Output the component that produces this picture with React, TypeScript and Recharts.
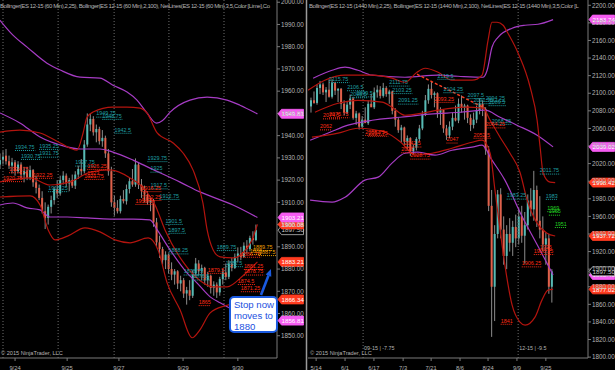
import React from "react";
import { ComposedChart, Bar, Line, XAxis, YAxis, ReferenceLine, ReferenceDot } from "recharts";

const FONT = "'Liberation Sans', Arial, sans-serif";
const UP = "#56bab4";
const DOWN = "#e0604a";
const WICK = "#8c8c8c";
const TEAL = "#1f9fa3";
const RED = "#ff2b14";
const ORANGE = "#f0a000";
const GREEN = "#22d022";
const MAGENTA = "#a63cc4";
const DARKRED = "#b3140e";
const AXIS = "#7a7a7a";
const TEXT = "#b4b4b4";

// ES 12-15 (60 Min) candles: [open, high, low, close]
const leftBars = [
  [1927, 1932, 1925, 1929], [1929, 1933, 1927, 1930.5], [1931, 1934, 1927, 1928.5], [1928.5, 1931, 1925, 1926.5],
  [1926.5, 1930, 1923, 1928], [1928, 1929, 1922, 1924], [1924, 1928.5, 1923, 1927], [1927, 1928, 1921, 1922.5],
  [1922.5, 1926, 1919, 1924], [1924, 1926, 1920, 1921], [1921, 1926.5, 1920, 1924.5], [1924.5, 1925, 1917, 1919],
  [1919, 1922, 1914, 1916.5], [1916.5, 1918, 1911, 1912], [1912, 1915, 1905, 1906], [1906, 1910, 1898, 1903],
  [1903, 1909, 1900, 1908], [1908, 1913, 1905, 1911], [1911, 1917, 1909, 1916], [1916, 1920, 1912, 1914],
  [1914, 1922, 1913, 1920], [1920, 1924, 1918, 1922], [1922, 1923, 1917, 1918.5], [1918.5, 1921, 1915, 1920],
  [1920, 1922.5, 1916.5, 1917.5], [1917.5, 1924, 1916, 1922.5], [1922.5, 1926.5, 1920.5, 1925], [1925, 1929.5, 1922, 1924],
  [1924, 1938, 1923, 1936], [1936, 1950, 1935, 1945], [1945, 1949.75, 1942, 1947.5], [1947.5, 1948.75, 1940, 1941.5],
  [1941.5, 1945, 1937, 1943], [1943, 1944, 1936, 1937.5], [1937.5, 1942.5, 1935, 1939], [1939, 1940, 1930, 1932],
  [1932, 1934, 1922, 1924], [1924, 1926, 1908, 1910], [1910, 1913, 1904, 1907.5], [1907.5, 1911, 1905, 1906],
  [1906, 1913, 1905, 1911.5], [1911.5, 1915.5, 1909.5, 1910.5], [1910.5, 1918, 1909, 1916], [1916, 1921, 1914, 1919.5],
  [1919.5, 1925, 1917, 1918], [1918, 1929.75, 1917, 1927], [1927, 1928, 1916, 1918], [1918, 1920.5, 1912, 1915],
  [1915, 1917.5, 1910, 1913.5], [1913.5, 1915, 1909, 1910], [1910, 1912.75, 1906, 1911], [1911, 1911.5, 1899, 1901],
  [1901, 1903, 1890, 1892], [1892, 1895, 1885, 1889], [1889, 1890, 1882, 1884], [1884, 1888, 1880, 1886.5],
  [1886.5, 1887, 1878, 1880], [1880, 1883, 1875, 1877.5], [1877.5, 1880, 1873, 1879], [1879, 1879.5, 1871, 1873.5],
  [1873.5, 1877, 1870, 1875], [1875, 1876, 1867, 1869], [1869, 1872, 1864, 1870.5], [1870.5, 1875, 1866, 1868],
  [1868, 1879.5, 1867, 1878], [1878, 1885, 1876, 1882.5], [1882.5, 1884, 1877, 1879], [1879, 1882, 1875, 1880.5],
  [1880.5, 1881, 1873, 1875], [1875, 1878.75, 1872, 1877], [1877, 1877.5, 1869, 1871.5], [1871.5, 1874.5, 1868, 1873],
  [1873, 1874, 1867, 1869.5], [1869.5, 1876.5, 1868, 1875.5], [1875.5, 1880, 1873, 1878.5], [1878.5, 1882.5, 1875, 1876.5],
  [1876.5, 1884, 1875.5, 1882.5], [1882.5, 1885, 1879, 1880.5], [1880.5, 1887, 1880, 1885.5], [1885.5, 1889.75, 1883, 1887],
  [1887, 1890, 1884, 1885.5], [1885.5, 1892, 1885, 1890.5], [1890.5, 1893, 1887, 1889], [1889, 1895, 1888, 1894],
  [1894, 1897, 1891, 1893], [1893, 1900, 1892.5, 1897.5],
];

// ES 12-15 (1440 Min) candles, first bar at slot 1
const rightBars = [
  [2085, 2095, 2078, 2092], [2092, 2102, 2088, 2089], [2089, 2110, 2087, 2106], [2106, 2114, 2099, 2110],
  [2110, 2112, 2098, 2101], [2101, 2107, 2090, 2104], [2104, 2115.75, 2095, 2096], [2096, 2116, 2094, 2112],
  [2112, 2113, 2098, 2103], [2103, 2106, 2090, 2105], [2105, 2106, 2082, 2088], [2088, 2092, 2075, 2078],
  [2078, 2090, 2076, 2087], [2087, 2098.5, 2082, 2094], [2094, 2096, 2070, 2072], [2072, 2080, 2064, 2077],
  [2077, 2078, 2058.75, 2062], [2062, 2074, 2060, 2070], [2070, 2084, 2068, 2066], [2066, 2092, 2064, 2088],
  [2088, 2099.5, 2085, 2084], [2084, 2106.5, 2082, 2101], [2101, 2109, 2095, 2104], [2104, 2108, 2094, 2097],
  [2097, 2111.75, 2095, 2106], [2106, 2108, 2096, 2099], [2099, 2104, 2088, 2102], [2102, 2103, 2076, 2080],
  [2080, 2083, 2062, 2070], [2070, 2072, 2055, 2058], [2058, 2064, 2044, 2061], [2061, 2062, 2040, 2045],
  [2045, 2052, 2035, 2049], [2049, 2050, 2028.75, 2034], [2034, 2042, 2030, 2038], [2038, 2050, 2035, 2048],
  [2048, 2064, 2045, 2060], [2060, 2080, 2058, 2076], [2076, 2098, 2074, 2092], [2092, 2110, 2088, 2105],
  [2105, 2114, 2094, 2098], [2098, 2102, 2084, 2100], [2100, 2101, 2072, 2078], [2078, 2084, 2064, 2081],
  [2081, 2082, 2055, 2060], [2060, 2064, 2047, 2052], [2052, 2068, 2049, 2062], [2062, 2078, 2058, 2072],
  [2072, 2086, 2068, 2069], [2069, 2094, 2066, 2088], [2088, 2097.5, 2078, 2084], [2084, 2088, 2070, 2086],
  [2086, 2087, 2066, 2072], [2072, 2076, 2057, 2064], [2064, 2078, 2060, 2070], [2070, 2086, 2066, 2080],
  [2080, 2094.25, 2076, 2088], [2088, 2092, 2074, 2082], [2082, 2084, 2030, 2036], [2036, 2040, 1966, 1972],
  [1972, 1990, 1823, 1880], [1880, 1950, 1841, 1940], [1940, 1990, 1935, 1985], [1985, 1992, 1935, 1945],
  [1945, 1960, 1905, 1915], [1915, 1950, 1900, 1940], [1940, 1958, 1920, 1930], [1930, 1955, 1915, 1948],
  [1948, 1962, 1925, 1935], [1935, 1970, 1928, 1960], [1960, 1972, 1930, 1938], [1938, 1965, 1906.25, 1950],
  [1950, 1985, 1945, 1978], [1978, 1992, 1960, 1968], [1968, 2011.75, 1955, 1990], [1990, 1995, 1948, 1955],
  [1955, 1983, 1935, 1945], [1945, 1960, 1920, 1928], [1928, 1942, 1905, 1935], [1935, 1940, 1872, 1880],
  [1880, 1900, 1862, 1897.5],
];

// Bollinger bands [bar, price]
const leftTop100 = [[0, 1991.9], [4.3, 1985.2], [9, 1979.8], [15.6, 1972.6], [20, 1969.5], [26.6, 1966.3], [33.2, 1965.9], [37.5, 1962.7], [42.2, 1959.6], [45.5, 1956], [48.8, 1950.2], [52, 1945.6], [54, 1946.8], [56.5, 1950.6], [63.1, 1956], [68.8, 1957.3], [75.4, 1956], [79.7, 1953.7], [85.5, 1949.8]];
const leftMid100 = [[0, 1950.2], [6.6, 1945.7], [13.3, 1939.4], [20, 1935.8], [26.6, 1934], [33.2, 1934], [37.5, 1932.6], [44.2, 1929], [49.8, 1925.4], [59.8, 1919.1], [66.4, 1914.7], [77.4, 1908.8], [85.5, 1903.2]];
const leftLow100 = [[0, 1908.8], [4.3, 1909.7], [9, 1907.5], [13.3, 1906.6], [16.6, 1903.4], [22.3, 1903.4], [28.9, 1903], [36.5, 1902.5], [44.2, 1902.5], [49.8, 1902.1], [52.2, 1897.6], [56.5, 1888.6], [62.1, 1878.3], [65.4, 1873.8], [69.8, 1867.5], [73.1, 1864.8], [78, 1861.2], [85.5, 1856.8]];
const leftTop25 = [[0, 1941.6], [6.6, 1942.5], [13.3, 1941.2], [20, 1936.7], [25.6, 1933.5], [27.6, 1941.2], [28.9, 1948.3], [30.9, 1950.6], [37.5, 1952.8], [42.2, 1952.8], [46.5, 1952.4], [48.8, 1950.2], [52.2, 1941.2], [57.5, 1936.7], [60.8, 1932.2], [64.1, 1924.6], [67.4, 1909.7], [68.8, 1897.6], [70.8, 1888.6], [73.1, 1885.5], [77.4, 1885], [80.7, 1887.3], [83.7, 1893.1], [85.5, 1900.1]];
const leftMid25 = [[0, 1919.2], [10, 1921], [16.6, 1917.8], [23.3, 1919.2], [30, 1923.6], [36.5, 1924.6], [43.2, 1921], [48.2, 1915.6], [51.5, 1908.8], [54.8, 1897.6], [60.8, 1883.2], [65.4, 1876], [70.8, 1872], [75.4, 1872], [80.7, 1877], [85.5, 1883.2]];
const leftLow25 = [[0, 1912.4], [10, 1912.9], [13.3, 1908.8], [16, 1897.6], [18.3, 1893.1], [22.6, 1894.9], [28.2, 1898.5], [33.2, 1896.7], [38.2, 1893.1], [43.2, 1891.8], [49.2, 1894], [52.5, 1888.6], [55.5, 1873.8], [59.8, 1861.7], [63.8, 1849.1], [66.4, 1852.7], [69.8, 1860.3], [74.8, 1863.5], [79.7, 1864.8], [85.5, 1866.3]];

const rightTop100 = [[1.7, 2117.1], [8, 2126.1], [12.3, 2129.6], [16.6, 2126.1], [21.3, 2120.5], [32.2, 2118.2], [43.2, 2120.5], [49.8, 2119.3], [58.1, 2118.2], [59.5, 2126.1], [61.1, 2152.3], [63.1, 2163.6], [67.8, 2173.9], [72.1, 2177.3], [76.4, 2178.4], [81.4, 2183.7]];
const rightMid100 = [[0.7, 2046.6], [7.3, 2055.7], [13.3, 2063.7], [21.3, 2069.3], [30.6, 2072.7], [40.5, 2076.2], [50.5, 2078.4], [58.8, 2080.7], [63.8, 2072.7], [69.4, 2063.7], [76.1, 2052.3], [81.4, 2039]];
const rightLow100 = [[0.7, 1978.4], [8, 1976.2], [12.3, 1981.8], [18.9, 2001.2], [23.3, 2004.6], [27.9, 2020.5], [32.2, 2031.8], [36.5, 2033], [42.2, 2029.6], [47.8, 2035.2], [54.5, 2038.7], [57.8, 2040.9], [61.1, 2023.9], [65.4, 2001.2], [70.4, 1964.8], [77.1, 1921.6], [81.4, 1893.5]];
const rightTop25 = [[0, 2103.4], [5.6, 2114.8], [12.3, 2120.5], [21.3, 2120.5], [27.9, 2117.1], [32.2, 2112.5], [36.2, 2123.9], [38.9, 2128.4], [43.2, 2123.9], [47.8, 2114.8], [54.5, 2114.8], [57.8, 2120.5], [59.8, 2160.2], [61.1, 2180.7], [62.8, 2180.7], [64.8, 2177.3], [66.4, 2168.2], [69.8, 2145.5], [73.8, 2106.8], [76.1, 2069.3], [77.1, 2038.6], [78.1, 2009.1], [80.4, 1998.9], [82.1, 1998.4]];
const rightMid25 = [[2.3, 2078.4], [10, 2088.6], [16.6, 2092], [24.6, 2089.8], [27.9, 2084.1], [32.2, 2075], [37.9, 2077.3], [43.2, 2080.7], [52.2, 2084.1], [58.1, 2083], [60.5, 2069.3], [63.8, 2050], [67.1, 2031.8], [70.4, 2010.2], [72.8, 1978.4], [76.1, 1952.3], [79.4, 1940.9], [82.1, 1937.7]];
const rightLow25 = [[1.3, 2050], [10, 2054.6], [16.6, 2060.2], [25.6, 2055.7], [31.2, 2043.2], [35.5, 2029.6], [41.2, 2031.8], [47.8, 2037.5], [54.5, 2044.3], [57.8, 2046.6], [60.5, 2031.8], [62.1, 1989.8], [63.8, 1944.3], [65.4, 1904.6], [67.8, 1859.1], [70.4, 1839.8], [72.1, 1836.4], [75.4, 1845.5], [77.7, 1864.8], [79.7, 1876.1], [81.4, 1877]];
const rightTrend = [[36.2, 2121.6], [58.8, 2083]];

// swing labels [bar, price]
const leftHighs = [[32, 1949.75], [34, 1948.75], [38, 1942.5], [5, 1934.75], [13, 1935.25], [7, 1930.75], [13, 1931.75], [25, 1927.75], [49, 1929.75], [50, 1925], [50, 1917.5], [53, 1912.75], [16, 1916.25], [55, 1901.5], [56, 1897.5], [56, 1888.25], [61, 1878.75], [64, 1876.5], [72, 1889.75], [75, 1882.5]];
const leftLows = [[1, 1920.75], [3, 1924.75], [11, 1922.25], [29, 1926.25], [29, 1923], [28, 1921.75], [47, 1916.25], [47, 1912.25], [45, 1910.5], [69, 1879.5], [80, 1886.75], [81, 1881.25], [81, 1878.75], [79, 1874.5], [80, 1871.25], [66, 1865]];
const leftOrange = [[84, 1889.75], [86, 1887.5], [83, 1888]];
const rightHighs = [[7, 2115.75], [13, 2106.5], [14, 2098.5], [16, 2099.5], [27, 2111.75], [28, 2103.25], [30, 2091.25], [43, 2119.5], [45, 2104.25], [53, 2097.5], [55, 2091.75], [59, 2094.25], [60, 2089.5], [61, 2068.25], [77, 2011.75], [66, 1983.25], [79, 1983]];
const rightLows = [[4, 2062], [5, 2074.5], [7, 2075.75], [19, 2055.75], [20, 2054.75], [31, 2036], [32, 2042.5], [34, 2028.75], [42, 2093.25], [46, 2047], [55, 2052.5], [59, 2064.25], [64, 1841], [71, 1906.25], [75, 1920.25], [77, 1925]];
const rightGreen = [[79.5, 1969], [80, 1965], [82, 1951]];

// price markers on the axis [price, kind]
const leftTags: [number, string][] = [[1897.5, "box"], [1900.08, "red"], [1903.21, "mag"], [1949.81, "mag"], [1883.21, "red"], [1866.34, "red"], [1856.81, "mag"]];
const rightTags: [number, string][] = [[2183.74, "mag"], [2039.02, "mag"], [1998.42, "red"], [1937.72, "red"], [1893.4, "mag"], [1897.5, "box"], [1877.02, "red"]];

const leftDateAt = [5, 22.3, 39.5, 60.8, 79];
const leftDates = ["9/24", "9/25", "9/27", "9/29", "9/30"];
const leftSessions = [1, 19.3, 37.9, 56.1, 74.4];
const rightDateAt = [2.7, 12.3, 21.9, 31.6, 40.9, 50.5, 59.8, 69.4, 79];
const rightDates = ["5/14", "6/1", "6/17", "7/3", "7/21", "8/6", "8/24", "9/9", "9/25"];
const rightSessions = [18.3, 69.8];
const rightRolls = [[18.3, "09-15 | -7.75"], [69.8, "12-15 | -9.5"]] as [number, string][];

const leftTicks = [1850, 1860, 1870, 1880, 1890, 1900, 1910, 1920, 1930, 1940, 1950, 1960, 1970, 1980, 1990, 2000];
const rightTicks = [1800, 1820, 1840, 1860, 1880, 1900, 1920, 1940, 1960, 1980, 2000, 2020, 2040, 2060, 2080, 2100, 2120, 2140, 2160, 2180, 2200];

const leftHeader = "Bollinger(ES 12-15 (60 Min),2,25), Bollinger(ES 12-15 (60 Min),2,100), NetLines(ES 12-15 (60 Min),3,5,Color [Lime],Co";
const rightHeader = "Bollinger(ES 12-15 (1440 Min),2,25), Bollinger(ES 12-15 (1440 Min),2,100), NetLines(ES 12-15 (1440 Min),3,5,Color [L";

const toRows = (bars: number[][], first: number) =>
  bars.map(([o, h, l, c], k) => ({ i: k + first, o, h, l, c }));
const toPts = (pts: number[][]) => pts.map(([i, v]) => ({ i, v }));

function Candle(props: any) {
  const { x, y, width, height, payload } = props;
  if (!payload) return null;
  const { o, h, l, c } = payload;
  const top = Math.min(y, y + height);
  const span = Math.abs(height);
  const k = h === l ? 0 : span / (h - l);
  const cx = x + width / 2;
  const b1 = top + (h - Math.max(o, c)) * k;
  const b2 = top + (h - Math.min(o, c)) * k;
  return (
    <g>
      <line x1={cx} x2={cx} y1={top} y2={top + span} stroke={WICK} strokeWidth={1} />
      <rect x={cx - 1} y={b1} width={2} height={Math.max(1, b2 - b1)} fill={c >= o ? UP : DOWN} />
    </g>
  );
}

const swingLabel = (text: string, color: string) => (p: any) => (
  <g>
    <text x={p.cx} y={p.cy + 1.5} fill={color} fontSize={5.4} fontFamily={FONT}>{text}</text>
    <line x1={p.cx} x2={p.cx + text.length * 2.9} y1={p.cy + 3.2} y2={p.cy + 3.2} stroke={color} strokeWidth={1} strokeDasharray="1 1" />
  </g>
);

const tagStyle: Record<string, { bg: string; fg: string; border: string }> = {
  mag: { bg: "#f65cf2", fg: "#ffffff", border: "#f65cf2" },
  red: { bg: "#ff3b1f", fg: "#ffffff", border: "#ff3b1f" },
  box: { bg: "#000000", fg: "#c8c8c8", border: "#bdbdbd" },
};

const axisTag = (value: number, kind: string) => (p: any) => {
  const s = tagStyle[kind];
  const x = p.cx;
  const y = p.cy;
  return (
    <g>
      <path d={`M${x + 1},${y} L${x + 4.5},${y - 4.5} H${x + 26.5} V${y + 4.5} H${x + 4.5} Z`} fill={s.bg} stroke={s.border} strokeWidth={0.8} />
      <text x={x + 4.5} y={y + 2.3} fill={s.fg} fontSize={6.2} fontFamily={FONT}>{value.toFixed(2)}</text>
    </g>
  );
};

const callout = (p: any) => {
  const x = p.cx;
  const y = p.cy;
  return (
    <g>
      <line x1={x - 10} y1={y + 26} x2={x - 2.5} y2={y + 6.5} stroke="#1a5ae0" strokeWidth={2.6} />
      <path d={`M${x},${y} L${x + 0.3},${y + 7.6} L${x - 5.3},${y + 5.4} Z`} fill="#1a5ae0" />
      <rect x={x - 41} y={y + 28} width={47} height={35} rx={4} fill="#ffffff" stroke="#1a5ae0" strokeWidth={2} />
      <text fill="#1a50e0" fontSize={9.6} fontFamily={FONT}>
        <tspan x={x - 37} y={y + 38.5}>Stop now</tspan>
        <tspan x={x - 37} y={y + 49.5}>moves to</tspan>
        <tspan x={x - 37} y={y + 60.5}>1880</tspan>
      </text>
    </g>
  );
};

const rollLabel = (text: string) => (p: any) => (
  <text x={p.cx + 1} y={p.cy - 8} fill={TEXT} fontSize={5.4} fontFamily={FONT}>{text}</text>
);

const dateTick = (dates: string[]) => (p: any) => (
  <text x={p.x} y={p.y + 6.5} textAnchor="middle" fill={TEXT} fontSize={5.8} fontFamily={FONT}>
    {dates[p.index] ?? ""}
  </text>
);

type PanelProps = {
  width: number;
  marginLeft: number;
  axisWidth: number;
  rows: any[];
  xMax: number;
  yDomain: [number, number];
  yTicks: number[];
  dateAt: number[];
  dates: string[];
  sessions: number[];
  bands: { pts: number[][]; color: string }[];
  labels: { pts: number[][]; color: string }[];
  tags: [number, string][];
  children?: React.ReactNode;
};

function Panel(props: PanelProps) {
  const { width, marginLeft, axisWidth, rows, xMax, yDomain, yTicks, dateAt, dates, sessions, bands, labels, tags } = props;
  return (
    <ComposedChart width={width} height={370} data={rows} margin={{ top: 0, right: 0, bottom: 0, left: marginLeft }}>
      <XAxis
        dataKey="i"
        type="number"
        domain={[0, xMax]}
        allowDataOverflow
        ticks={dateAt}
        interval={0}
        height={12}
        tickSize={3}
        stroke={AXIS}
        tick={dateTick(dates)}
      />
      <YAxis
        orientation="right"
        type="number"
        domain={yDomain}
        allowDataOverflow
        ticks={yTicks}
        interval={0}
        width={axisWidth}
        tickSize={3}
        tickMargin={1}
        stroke={AXIS}
        tickFormatter={(v: number) => v.toFixed(2)}
        tick={{ fill: TEXT, fontSize: 6.3, fontFamily: FONT }}
      />
      {sessions.map((s) => (
        <ReferenceLine key={"s" + s} x={s} stroke="#6e6e6e" strokeDasharray="1 2" strokeWidth={1} />
      ))}
      <Bar dataKey={(d: any) => [d.l, d.h]} barSize={3} shape={Candle} isAnimationActive={false} />
      {bands.map((b, k) => (
        <Line
          key={"b" + k}
          data={toPts(b.pts)}
          dataKey="v"
          type="monotone"
          stroke={b.color}
          strokeWidth={1.2}
          dot={false}
          activeDot={false}
          isAnimationActive={false}
        />
      ))}
      {props.children}
      {labels.flatMap((g, k) =>
        g.pts.map(([i, v], n) => (
          <ReferenceDot key={`l${k}-${n}`} x={i} y={v} r={0} ifOverflow="visible" shape={swingLabel(String(v), g.color)} />
        ))
      )}
      {tags.map(([v, kind], n) => (
        <ReferenceDot key={"t" + n} x={xMax} y={v} r={0} ifOverflow="visible" shape={axisTag(v, kind)} />
      ))}
    </ComposedChart>
  );
}

export default function App() {
  return (
    <div style={{ position: "fixed", left: 0, top: 0, width: 615, height: 370, background: "#000", overflow: "hidden" }}>
      <div style={{ position: "absolute", left: 0, top: 0 }}>
        <Panel
          width={305}
          marginLeft={0}
          axisWidth={28}
          rows={toRows(leftBars, 0)}
          xMax={92}
          yDomain={[1840, 2001]}
          yTicks={leftTicks}
          dateAt={leftDateAt}
          dates={leftDates}
          sessions={leftSessions}
          bands={[
            { pts: leftTop100, color: MAGENTA },
            { pts: leftMid100, color: MAGENTA },
            { pts: leftLow100, color: MAGENTA },
            { pts: leftTop25, color: DARKRED },
            { pts: leftMid25, color: DARKRED },
            { pts: leftLow25, color: DARKRED },
          ]}
          labels={[
            { pts: leftHighs, color: TEAL },
            { pts: leftLows, color: RED },
            { pts: leftOrange, color: ORANGE },
          ]}
          tags={leftTags}
        >
          <ReferenceDot x={90} y={1880} r={0} ifOverflow="visible" shape={callout} />
        </Panel>
      </div>
      <div style={{ position: "absolute", left: 306, top: 0 }}>
        <Panel
          width={309}
          marginLeft={2}
          axisWidth={27}
          rows={toRows(rightBars, 1)}
          xMax={93}
          yDomain={[1799, 2206]}
          yTicks={rightTicks}
          dateAt={rightDateAt}
          dates={rightDates}
          sessions={rightSessions}
          bands={[
            { pts: rightTop100, color: MAGENTA },
            { pts: rightMid100, color: MAGENTA },
            { pts: rightLow100, color: MAGENTA },
            { pts: rightTop25, color: DARKRED },
            { pts: rightMid25, color: DARKRED },
            { pts: rightLow25, color: DARKRED },
          ]}
          labels={[
            { pts: rightHighs, color: TEAL },
            { pts: rightLows, color: RED },
            { pts: rightGreen, color: GREEN },
          ]}
          tags={rightTags}
        >
          <ReferenceLine
            segment={rightTrend.map(([x, y]) => ({ x, y }))}
            stroke="#ff3b1f"
            strokeWidth={1.4}
            strokeDasharray="3 2"
            ifOverflow="visible"
          />
          {rightRolls.map(([i, t]) => (
            <ReferenceDot key={t} x={i} y={1799} r={0} ifOverflow="visible" shape={rollLabel(t)} />
          ))}
        </Panel>
      </div>
      <svg width={615} height={370} style={{ position: "absolute", left: 0, top: 0, pointerEvents: "none" }}>
        <line x1={306.5} x2={306.5} y1={0} y2={370} stroke="#9a9a9a" strokeWidth={1.5} />
        <svg x={0} y={0} width={277} height={12} overflow="hidden">
          <text x={0} y={7.5} fontFamily={FONT} fontSize={6} letterSpacing={-0.4} fill={TEXT}>{leftHeader}</text>
        </svg>
        <svg x={308} y={0} width={280} height={12} overflow="hidden">
          <text x={1} y={7.5} fontFamily={FONT} fontSize={6} letterSpacing={-0.4} fill={TEXT}>{rightHeader}</text>
        </svg>
        <text x={1} y={355} fontFamily={FONT} fontSize={5.6} fill={TEXT}>© 2015 NinjaTrader, LLC</text>
        <text x={310} y={355} fontFamily={FONT} fontSize={5.6} fill={TEXT}>© 2015 NinjaTrader, LLC</text>
      </svg>
    </div>
  );
}
